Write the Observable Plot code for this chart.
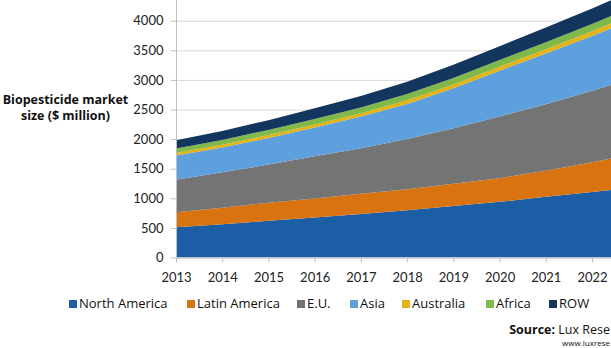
<!DOCTYPE html>
<html>
<head>
<meta charset="utf-8">
<script src="https://cdn.jsdelivr.net/npm/d3@7"></script>
<script src="https://cdn.jsdelivr.net/npm/@observablehq/plot@0.6"></script>
<style>
  body { margin: 0; background: #fff; }
  #wrap { position: relative; width: 611px; height: 348px; overflow: hidden; font-family: "Open Sans", sans-serif; color: #111; }
  #chart { position: absolute; left: 0; top: 0; }
  .ytitle { position: absolute; left: 0; width: 131px; top: 92px; text-align: center; font-weight: bold; font-size: 12.5px; line-height: 16px; }
  .legend { position: absolute; top: 294px; left: 0; width: 611px; height: 18px; font-size: 13px; }
  .item { position: absolute; top: 0; white-space: nowrap; }
  .sw { display: inline-block; width: 8px; height: 8px; margin-right: 2px; vertical-align: 0px; }
  .source { position: absolute; right: 1px; top: 321px; font-size: 12.5px; white-space: nowrap; }
  .url { position: absolute; right: 1px; top: 337px; font-size: 8px; white-space: nowrap; }
</style>
</head>
<body>
<div id="wrap">
  <div id="chart"></div>
  <div class="ytitle">Biopesticide market<br>size ($ million)</div>
  <div class="legend" id="legend"></div>
  <div class="source"><b>Source:</b> Lux Rese</div>
  <div class="url">www.luxrese</div>
</div>
<script>
// Data ($ million); 2023 is only partly visible at the right edge
const years = [2013, 2014, 2015, 2016, 2017, 2018, 2019, 2020, 2021, 2022, 2023];
const northAmerica = [510, 560, 620, 675, 735, 800, 870, 940, 1025, 1105, 1190];
const latinAmerica = [255, 280, 305, 320, 340, 355, 375, 400, 440, 505, 575];
const eu           = [550, 600, 645, 715, 770, 845, 940, 1040, 1125, 1205, 1290];
const asia         = [410, 420, 450, 485, 535, 595, 675, 775, 855, 925, 1000];
const australia    = [40, 45, 48, 52, 56, 60, 64, 68, 73, 80, 88];
const africa       = [75, 80, 88, 93, 99, 105, 110, 115, 120, 125, 132];
const row          = [140, 150, 164, 180, 195, 210, 221, 232, 247, 260, 275];

const regions = ["North America", "Latin America", "E.U.", "Asia", "Australia", "Africa", "ROW"];
const colors  = ["#1b5ea6", "#d9730f", "#747474", "#5ea0de", "#e4b318", "#80b84a", "#13365f"];
const yTicks  = [0, 500, 1000, 1500, 2000, 2500, 3000, 3500, 4000];
const xTicks  = [2013, 2014, 2015, 2016, 2017, 2018, 2019, 2020, 2021, 2022];

const series = [northAmerica, latinAmerica, eu, asia, australia, africa, row];
const data = [];
series.forEach((vals, i) => {
  vals.forEach((v, j) => data.push({year: years[j], value: v, region: regions[i]}));
});

const chart = Plot.plot({
  width: 611,
  height: 285,
  marginLeft: 176,
  marginRight: 0,
  marginTop: 0,
  marginBottom: 27.5,
  style: {fontFamily: "Lato, sans-serif", fontSize: "13px", color: "#222", background: "#fff"},
  x: {domain: [2013, 2022.41], axis: null},
  y: {domain: [0, 4350], axis: null},
  color: {domain: regions, range: colors},
  marks: [
    Plot.gridY(yTicks, {stroke: "#d9d9d9", strokeOpacity: 1}),
    Plot.areaY(data, {x: "year", y: "value", fill: "region", z: "region", order: regions, clip: true}),
    Plot.ruleX([2013], {stroke: "#bfbfbf"}),
    Plot.ruleY([0], {stroke: "#bfbfbf"}),
    Plot.axisY(yTicks, {tickSize: 5, tickPadding: 8, stroke: "#bfbfbf", label: null, tickFormat: d => String(d), fill: "#222"}),
    Plot.axisX(xTicks, {tickSize: 5, tickPadding: 10, stroke: "#bfbfbf", label: null, tickFormat: d => String(d), fill: "#222"})
  ]
});
document.getElementById("chart").appendChild(chart);

// Legend
const legendX = [69, 187, 297, 350, 402, 486, 549];
const legend = document.getElementById("legend");
regions.forEach((r, i) => {
  const it = document.createElement("div");
  it.className = "item";
  it.style.left = legendX[i] + "px";
  it.innerHTML = `<span class="sw" style="background:${colors[i]}"></span>${r}`;
  legend.appendChild(it);
});
</script>
</body>
</html>
